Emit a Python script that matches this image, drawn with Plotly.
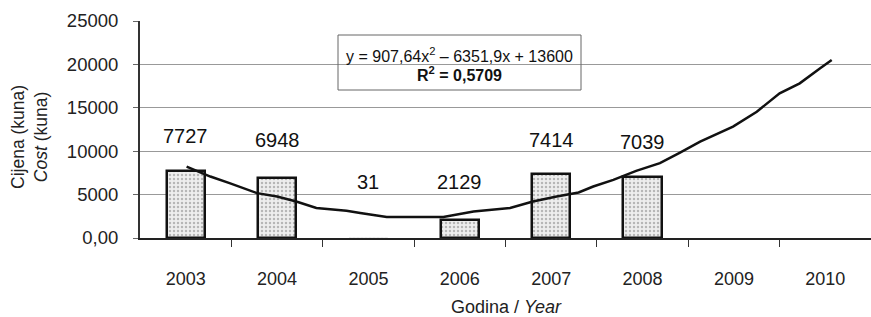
import plotly.graph_objects as go

# ---- data ----
years = [2003, 2004, 2005, 2006, 2007, 2008, 2009, 2010]
year_labels = ["2003", "2004", "2005", "2006", "2007", "2008", "2009", "2010"]
bar_years = [2003, 2004, 2005, 2006, 2007, 2008]
bar_values = [7727, 6948, 31, 2129, 7414, 7039]

trend_x = [2003.01, 2003.27, 2003.48, 2003.78, 2004.00, 2004.21, 2004.43, 2004.76,
           2004.91, 2005.20, 2005.82, 2006.15, 2006.55, 2006.80, 2007.06, 2007.30,
           2007.46, 2007.68, 2007.93, 2008.19, 2008.41, 2008.63, 2008.99, 2009.25,
           2009.50, 2009.72, 2009.94, 2010.07]
trend_y = [8230, 7080, 6320, 5170, 4780, 4210, 3450, 3140,
           2870, 2410, 2410, 3060, 3450, 4210, 4780, 5240,
           5930, 6700, 7735, 8620, 9840, 11100, 12830, 14550,
           16670, 17820, 19540, 20500]

y_tickvals = [0, 5000, 10000, 15000, 20000, 25000]
y_ticktext = ["0,00", "5000", "10000", "15000", "20000", "25000"]

equation_text = "y = 907,64x<sup>2</sup> – 6351,9x + 13600"
r2_text = "<b>R<sup>2</sup> = 0,5709</b>"

# ---- layout constants ----
FONT = "Liberation Sans, Arial, sans-serif"
label_heights = [11750, 11250, 6450, 6450, 11250, 11100]  # where value labels sit
bar_line_widths = [2.5, 2.5, 0, 2.5, 2.5, 2.5]

fig = go.Figure()

fig.add_trace(go.Bar(
    x=bar_years, y=bar_values, width=0.42,
    marker=dict(
        color="#ececec",
        pattern=dict(shape=".", fgcolor="#808080", bgcolor="#eeeeee", size=4, solidity=0.3),
        line=dict(color="#111111", width=bar_line_widths),
    ),
    showlegend=False, hoverinfo="skip",
))

fig.add_trace(go.Scatter(
    x=trend_x, y=trend_y, mode="lines",
    line=dict(color="#111111", width=2.5),
    showlegend=False, hoverinfo="skip",
))

annotations = []
for yr, v, h in zip(bar_years, bar_values, label_heights):
    annotations.append(dict(
        x=yr, y=h, xref="x", yref="y", text=str(v), showarrow=False,
        font=dict(family=FONT, size=20, color="#111"), xanchor="center", yanchor="middle",
    ))

# equation box text
annotations.append(dict(
    x=(459 - 140) / 731, y=(238 - 55) / 217, xref="paper", yref="paper",
    text=equation_text, showarrow=False, xanchor="center", yanchor="middle",
    font=dict(family=FONT, size=16, color="#111"),
))
annotations.append(dict(
    x=(459 - 140) / 731, y=(238 - 74) / 217, xref="paper", yref="paper",
    text=r2_text, showarrow=False, xanchor="center", yanchor="middle",
    font=dict(family=FONT, size=16, color="#111"),
))

# axis titles
annotations.append(dict(
    x=(29 - 140) / 731, y=(238 - 137) / 217, xref="paper", yref="paper",
    text="Cijena (kuna)<br><i>Cost</i> (kuna)", textangle=-90, showarrow=False,
    xanchor="center", yanchor="middle",
    font=dict(family=FONT, size=17.5, color="#222"),
))
annotations.append(dict(
    x=(506 - 140) / 731, y=(238 - 306.5) / 217, xref="paper", yref="paper",
    text="Godina / <i>Year</i>", showarrow=False, xanchor="center", yanchor="middle",
    font=dict(family=FONT, size=18, color="#222"),
))

fig.update_layout(
    width=871, height=317,
    margin=dict(l=140, r=0, t=21, b=79, pad=0),
    paper_bgcolor="white", plot_bgcolor="white",
    font=dict(family=FONT, color="#222"),
    annotations=annotations,
    bargap=0,
    shapes=[dict(
        type="rect", xref="paper", yref="paper",
        x0=(338 - 140) / 731, x1=(581 - 140) / 731,
        y0=(238 - 90) / 217, y1=(238 - 35) / 217,
        line=dict(color="#666", width=1), fillcolor="rgba(0,0,0,0)",
    )],
)

fig.update_xaxes(
    range=[2002.5, 2010.5], tickmode="array", tickvals=years, ticktext=year_labels,
    ticks="", showgrid=False, zeroline=False,
    showline=True, linecolor="#222", linewidth=1.5,
    tickfont=dict(family=FONT, size=18, color="#222"),
    ticklabelstandoff=24,
    minor=dict(ticks="outside", ticklen=7, tickcolor="#333", tickwidth=1,
               tickmode="array", tickvals=[y + 0.5 for y in years[:-1]], showgrid=False),
)

fig.update_yaxes(
    range=[0, 25000], tickmode="array", tickvals=y_tickvals, ticktext=y_ticktext,
    showgrid=True, gridcolor="#999999", gridwidth=1, zeroline=False,
    showline=True, linecolor="#333", linewidth=2,
    ticks="outside", ticklen=5, tickcolor="#666",
    tickfont=dict(family=FONT, size=18.5, color="#222"),
    ticklabelstandoff=11,
)

fig.write_html(
    "out.html",
    config={"displayModeBar": False},
    post_script="document.body.style.margin='0';document.body.style.overflow='hidden';",
)
